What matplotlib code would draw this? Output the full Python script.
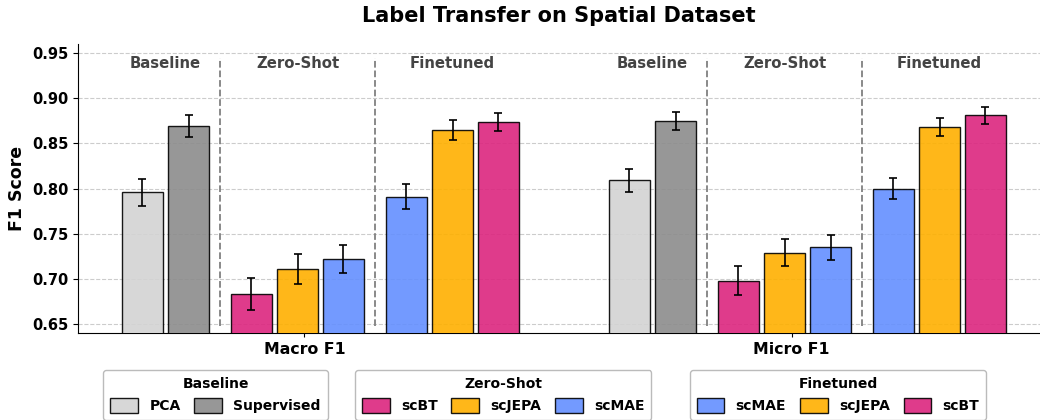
import matplotlib.pyplot as plt
from matplotlib.patches import Patch
import numpy as np

plt.rcParams['font.family'] = 'DejaVu Sans'
plt.rcParams['font.weight'] = 'bold'

metrics = ["Macro F1", "Micro F1"]

# baseline
pca = [0.796, 0.809]
pca_err = [0.015, 0.013]
supervised = [0.869, 0.875]
supervised_err = [0.012, 0.010]

# zero-shot
zs_scbt = [0.683, 0.698]
zs_scbt_err = [0.018, 0.016]
zs_scjepa = [0.711, 0.729]
zs_scjepa_err = [0.017, 0.015]
zs_scmae = [0.722, 0.735]
zs_scmae_err = [0.016, 0.014]

# finetuned
ft_scmae = [0.791, 0.800]
ft_scmae_err = [0.014, 0.012]
ft_scjepa = [0.865, 0.868]
ft_scjepa_err = [0.011, 0.010]
ft_scbt = [0.874, 0.881]
ft_scbt_err = [0.010, 0.009]

c_pca = "#D3D3D3"
c_sup = "#8C8C8C"
c_bt = "#DC267F"
c_jepa = "#FFB000"
c_mae = "#648FFF"

width = 0.084
offsets = [-0.333, -0.238, -0.109, -0.014, 0.080, 0.209, 0.304, 0.398]
series = [
    (pca, pca_err, c_pca),
    (supervised, supervised_err, c_sup),
    (zs_scbt, zs_scbt_err, c_bt),
    (zs_scjepa, zs_scjepa_err, c_jepa),
    (zs_scmae, zs_scmae_err, c_mae),
    (ft_scmae, ft_scmae_err, c_mae),
    (ft_scjepa, ft_scjepa_err, c_jepa),
    (ft_scbt, ft_scbt_err, c_bt),
]

fig = plt.figure(figsize=(10.4, 4.2), dpi=100)
ax = fig.add_axes([0.075, 0.207, 0.925, 0.688])

x = np.arange(len(metrics))
for off, (vals, errs, col) in zip(offsets, series):
    ax.bar(x + off, vals, width, yerr=errs, color=col, edgecolor="black",
           linewidth=1.0, alpha=0.9, capsize=3,
           error_kw=dict(elinewidth=1.2, capthick=1.2, ecolor="black"), zorder=3)

# dividers + section labels
for g in x:
    for d in [-0.1735, 0.1445]:
        ax.plot([g + d, g + d], [0.648, 0.945], ls="--", color="gray", lw=1.3, zorder=2)
    ax.text(g - 0.2855, 0.939, "Baseline", ha="center", va="center",
            fontsize=10.7, fontweight="bold", color="#444444")
    ax.text(g - 0.014, 0.939, "Zero-Shot", ha="center", va="center",
            fontsize=10.7, fontweight="bold", color="#444444")
    ax.text(g + 0.304, 0.939, "Finetuned", ha="center", va="center",
            fontsize=10.7, fontweight="bold", color="#444444")

ax.set_xlim(-0.465, 1.51)
ax.set_ylim(0.64, 0.96)
ax.set_yticks([0.65, 0.70, 0.75, 0.80, 0.85, 0.90, 0.95])
ax.set_xticks(x)
ax.set_xticklabels(metrics, fontsize=11.3, fontweight="bold")
ax.tick_params(axis="y", labelsize=10.5)
ax.tick_params(axis="x", length=3)
ax.set_ylabel("F1 Score", fontsize=12.5, fontweight="bold")
ax.set_title("Label Transfer on Spatial Dataset", fontsize=15, fontweight="bold", pad=16)
ax.grid(axis="y", ls="--", color="#cccccc", lw=0.8, zorder=0)
ax.spines["top"].set_visible(False)
ax.spines["right"].set_visible(False)

def handles(labels, cols):
    return [Patch(facecolor=c, edgecolor="black", alpha=0.9, label=l) for l, c in zip(labels, cols)]

leg_kw = dict(loc="upper center", frameon=True, fontsize=10, title_fontsize=10,
              handlelength=2.0, handleheight=1.3, handletextpad=0.8, columnspacing=1.0,
              edgecolor="#aaaaaa", borderpad=0.5)
l1 = ax.legend(handles=handles(["PCA", "Supervised"], [c_pca, c_sup]), title="Baseline",
               ncol=2, bbox_to_anchor=(0.143, -0.104), **leg_kw)
l1.get_title().set_fontweight("bold")
ax.add_artist(l1)
l2 = ax.legend(handles=handles(["scBT", "scJEPA", "scMAE"], [c_bt, c_jepa, c_mae]), title="Zero-Shot",
               ncol=3, bbox_to_anchor=(0.442, -0.104), **leg_kw)
l2.get_title().set_fontweight("bold")
ax.add_artist(l2)
l3 = ax.legend(handles=handles(["scMAE", "scJEPA", "scBT"], [c_mae, c_jepa, c_bt]), title="Finetuned",
               ncol=3, bbox_to_anchor=(0.79, -0.104), **leg_kw)
l3.get_title().set_fontweight("bold")

fig.savefig("out.png", dpi=100)
